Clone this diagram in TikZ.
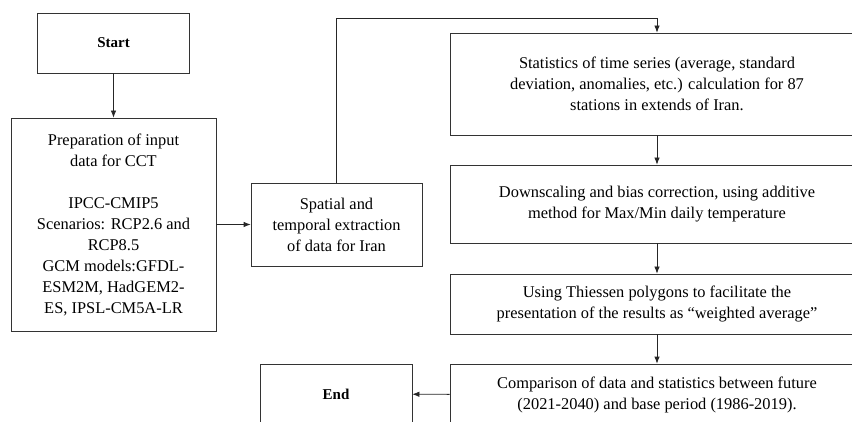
\documentclass[tikz,border=0pt]{standalone}
\usepackage{fontspec}
\setmainfont{Liberation Serif}
\usetikzlibrary{arrows.meta}

\begin{document}
\begin{tikzpicture}[x=1pt, y=1pt, >={Latex[length=7pt,width=5.5pt]},
	box/.style={rectangle, draw=black!80, line width=0.8pt, inner sep=0pt, align=center, font=\fontsize{16.4}{21}\selectfont},
	termbox/.style={box, minimum width=152pt, minimum height=60pt, font=\fontsize{15}{17}\selectfont\bfseries},
	widebox/.style={box, minimum width=414pt},
	flow/.style={->, draw=black!85, line width=0.8pt}]
\useasboundingbox (0,0) rectangle (852,421);
\clip (0,0) rectangle (852,421);

\node[termbox] (start) at (113.5,378) {Start};
\node[box, minimum width=205pt, minimum height=213pt] (prep) at (113.5,196.5)
	{Preparation of input\\ data for CCT\\[21pt] IPCC-CMIP5\\ Scenarios: RCP2.6 and\\ RCP8.5\\ GCM models:GFDL-\\ ESM2M, HadGEM2-\\ ES, IPSL-CM5A-LR};
\node[box, minimum width=171pt, minimum height=83pt] (extract) at (336.5,196.5)
	{Spatial and\\ temporal extraction\\ of data for Iran};

\node[widebox, minimum height=102pt] (stats) at (657,337)
	{Statistics of time series (average, standard\\ deviation, anomalies, etc.) calculation for 87\\ stations in extends of Iran.};
\node[widebox, minimum height=78pt] (downscale) at (657,217)
	{Downscaling and bias correction, using additive\\ method for Max/Min daily temperature};
\node[widebox, minimum height=60pt] (thiessen) at (657,117)
	{Using Thiessen polygons to facilitate the\\ presentation of the results as ``weighted average''};
\node[widebox, minimum height=62pt] (compare) at (657,26)
	{Comparison of data and statistics between future\\ (2021-2040) and base period (1986-2019).};
\node[termbox] (end) at (336,27) {End};

\coordinate (turn) at (657,403);

\draw[flow] (start) -- (prep);
\draw[flow] (prep) -- (extract);
\draw[flow] (extract.north) |- (turn) -- (stats.north);
\draw[flow] (stats) -- (downscale);
\draw[flow] (downscale) -- (thiessen);
\draw[flow] (thiessen) -- (compare);
\draw[flow] (compare) -- (end);

\end{tikzpicture}
\end{document}
